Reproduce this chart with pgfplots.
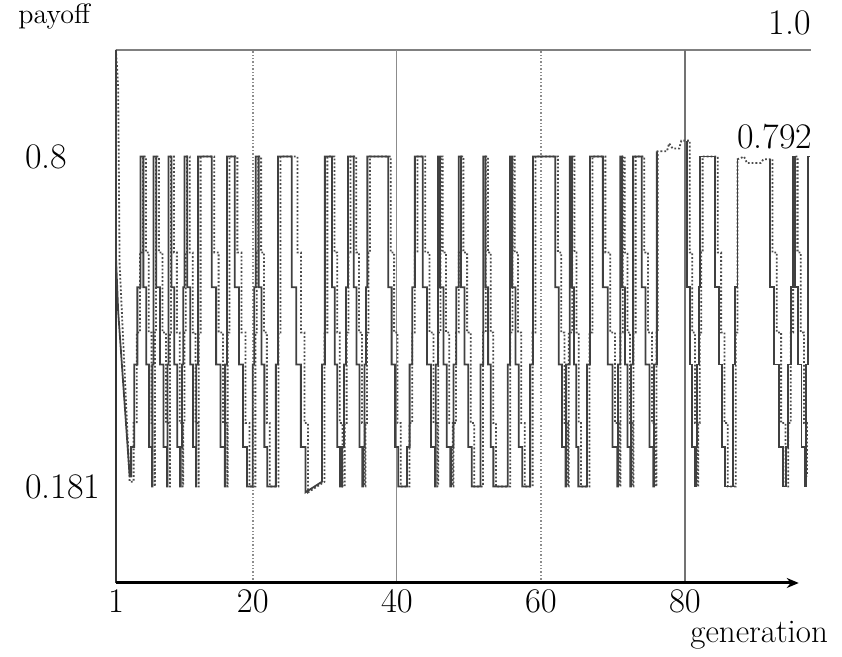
\documentclass[border=0pt]{standalone}
\usepackage{pgfplots}
\pgfplotsset{compat=1.18}
\usetikzlibrary{arrows.meta}
\begin{document}
\begin{tikzpicture}
\begin{axis}[
  scale only axis, width=347.5pt, height=266.5pt,
  xmin=1, xmax=97.5, ymin=0, ymax=1,
  axis x line=bottom, axis y line=left,
  x axis line style={draw=none}, y axis line style={draw=none},
  xtick={1,20,40,60,80},
  ytick={0.181,0.8}, yticklabels={0.181,0.8},
  major tick length=0pt,
  tick label style={font=\fontsize{18}{20}\selectfont},
  yticklabel style={anchor=west, inner sep=0pt, xshift=-45.5pt},
  clip=false,
]
% frame and grid
\draw[black!50, line width=1.1pt] (axis cs:1,1) -- (axis cs:97.5,1);
\draw[black!45, densely dotted, line width=0.7pt] (axis cs:20,0) -- (axis cs:20,1);
\draw[black!45, line width=0.6pt] (axis cs:40,0) -- (axis cs:40,1);
\draw[black!45, densely dotted, line width=0.7pt] (axis cs:60,0) -- (axis cs:60,1);
\draw[black!55, line width=0.6pt] (axis cs:80,0) -- (axis cs:80,1);
\draw[black!80, line width=1pt] (axis cs:1,0) -- (axis cs:1,1);
\draw[black, line width=1.5pt, -{Stealth[length=6pt,width=5pt]}] (axis cs:1,0) -- (axis cs:95.8,0);

% dotted strategy
\addplot[black!70, densely dotted, line width=0.9pt] coordinates {
(1,1.0) (1.3,0.93) (1.5,0.6) (2.9,0.19) (3.45,0.19)
(3.45,0.3) (3.88,0.3) (3.88,0.47) (4.32,0.47) (4.32,0.62) (4.75,0.62) (4.75,0.8) (5.15,0.8)
(5.15,0.62) (5.55,0.62) (5.55,0.47) (5.95,0.47) (5.95,0.3) (6.35,0.3) (6.35,0.181) (6.4,0.181)
(6.4,0.47) (6.55,0.47) (6.55,0.8) (6.95,0.8)
(6.95,0.62) (7.45,0.62) (7.45,0.47) (7.95,0.47) (7.95,0.3) (8.45,0.3) (8.45,0.181) (8.5,0.181)
(8.5,0.47) (8.65,0.47) (8.65,0.8) (9.05,0.8)
(9.05,0.62) (9.45,0.62) (9.45,0.47) (9.85,0.47) (9.85,0.3) (10.25,0.3) (10.25,0.181) (10.35,0.181)
(10.35,0.3) (10.52,0.3) (10.52,0.47) (10.68,0.47) (10.68,0.62) (10.85,0.62) (10.85,0.8) (11.25,0.8)
(11.25,0.62) (11.65,0.62) (11.65,0.47) (12.05,0.47) (12.05,0.3) (12.45,0.3) (12.45,0.181) (12.5,0.181)
(12.5,0.47) (12.75,0.47) (12.75,0.8) (14.65,0.8)
(14.65,0.62) (15.25,0.62) (15.25,0.47) (15.85,0.47) (15.85,0.3) (16.45,0.3) (16.45,0.181) (16.5,0.181)
(16.5,0.47) (16.75,0.47) (16.75,0.8) (17.85,0.8)
(17.85,0.62) (18.42,0.62) (18.42,0.47) (18.98,0.47) (18.98,0.3) (19.55,0.3) (19.55,0.181) (20.35,0.181)
(20.35,0.47) (20.55,0.47) (20.55,0.62) (20.75,0.62) (20.75,0.8) (21.15,0.8)
(21.15,0.62) (21.55,0.62) (21.55,0.47) (21.95,0.47) (21.95,0.3) (22.35,0.3) (22.35,0.181) (23.55,0.181)
(23.55,0.47) (23.85,0.47) (23.85,0.8) (26.2,0.8)
(26.2,0.62) (26.68,0.62) (26.68,0.47) (27.17,0.47) (27.17,0.3) (27.65,0.3) (27.65,0.17) (29.95,0.19)
(29.95,0.47) (30.35,0.47) (30.35,0.8) (31.35,0.8)
(31.35,0.62) (31.72,0.62) (31.72,0.47) (32.08,0.47) (32.08,0.3) (32.45,0.3) (32.45,0.181) (32.75,0.181)
(32.75,0.3) (33.02,0.3) (33.02,0.47) (33.28,0.47) (33.28,0.62) (33.55,0.62) (33.55,0.8) (34.35,0.8)
(34.35,0.62) (34.75,0.62) (34.75,0.47) (35.15,0.47) (35.15,0.3) (35.55,0.3) (35.55,0.181) (35.65,0.181)
(35.65,0.3) (35.85,0.3) (35.85,0.47) (36.05,0.47) (36.05,0.62) (36.25,0.62) (36.25,0.8) (39.15,0.8)
(39.15,0.62) (39.62,0.62) (39.62,0.47) (40.08,0.47) (40.08,0.3) (40.55,0.3) (40.55,0.181) (41.75,0.181)
(41.75,0.3) (42.12,0.3) (42.12,0.47) (42.48,0.47) (42.48,0.62) (42.85,0.62) (42.85,0.8) (43.95,0.8)
(43.95,0.62) (44.52,0.62) (44.52,0.47) (45.08,0.47) (45.08,0.3) (45.65,0.3) (45.65,0.181) (45.75,0.181)
(45.75,0.47) (46.05,0.47) (46.05,0.8) (46.35,0.8)
(46.35,0.62) (46.82,0.62) (46.82,0.47) (47.28,0.47) (47.28,0.3) (47.75,0.3) (47.75,0.181) (47.85,0.181)
(47.85,0.3) (48.22,0.3) (48.22,0.47) (48.58,0.47) (48.58,0.62) (48.95,0.62) (48.95,0.8) (49.25,0.8)
(49.25,0.62) (49.75,0.62) (49.75,0.47) (50.25,0.47) (50.25,0.3) (50.75,0.3) (50.75,0.181) (51.95,0.181)
(51.95,0.47) (52.35,0.47) (52.35,0.8) (52.65,0.8)
(52.65,0.62) (53.02,0.62) (53.02,0.47) (53.38,0.47) (53.38,0.3) (53.75,0.3) (53.75,0.181) (55.75,0.181)
(55.75,0.47) (56.05,0.47) (56.05,0.8) (56.35,0.8)
(56.35,0.62) (56.82,0.62) (56.82,0.47) (57.28,0.47) (57.28,0.3) (57.75,0.3) (57.75,0.181) (58.85,0.181)
(58.85,0.47) (59.25,0.47) (59.25,0.8) (62.35,0.8)
(62.35,0.62) (62.82,0.62) (62.82,0.47) (63.28,0.47) (63.28,0.3) (63.75,0.3) (63.75,0.181) (63.85,0.181)
(63.85,0.47) (64.35,0.47) (64.35,0.8) (64.65,0.8)
(64.65,0.62) (64.95,0.62) (64.95,0.47) (65.25,0.47) (65.25,0.3) (65.55,0.3) (65.55,0.181) (66.75,0.181)
(66.75,0.47) (67.15,0.47) (67.15,0.8) (68.95,0.8)
(68.95,0.62) (69.62,0.62) (69.62,0.47) (70.28,0.47) (70.28,0.3) (70.95,0.3) (70.95,0.181) (71.05,0.181)
(71.05,0.47) (71.35,0.47) (71.35,0.8) (71.65,0.8)
(71.65,0.62) (72.02,0.62) (72.02,0.47) (72.38,0.47) (72.38,0.3) (72.75,0.3) (72.75,0.181) (72.85,0.181)
(72.85,0.47) (73.15,0.47) (73.15,0.8) (74.35,0.8)
(74.35,0.62) (74.88,0.62) (74.88,0.47) (75.42,0.47) (75.42,0.3) (75.95,0.3) (75.95,0.181) (76.05,0.181)
(76.05,0.47) (76.2,0.47) (76.2,0.81) (77.5,0.81) (77.8,0.825) (78.3,0.815) (79.2,0.815) (79.5,0.83) (80.65,0.83)
(80.65,0.62) (81.02,0.62) (81.02,0.47) (81.38,0.47) (81.38,0.3) (81.75,0.3) (81.75,0.181) (81.85,0.181)
(81.85,0.3) (82.05,0.3) (82.05,0.47) (82.25,0.47) (82.25,0.62) (82.45,0.62) (82.45,0.8) (84.55,0.8)
(84.55,0.62) (85.02,0.62) (85.02,0.47) (85.48,0.47) (85.48,0.3) (85.95,0.3) (85.95,0.181) (87.05,0.181)
(87.05,0.47) (87.3,0.47) (87.3,0.795) (88.2,0.8) (88.6,0.788) (90.5,0.788) (90.9,0.795) (92.15,0.795)
(92.15,0.62) (92.75,0.62) (92.75,0.47) (93.35,0.47) (93.35,0.3) (93.95,0.3) (93.95,0.181) (94.35,0.181)
(94.35,0.3) (94.68,0.3) (94.68,0.47) (95.02,0.47) (95.02,0.62) (95.35,0.62) (95.35,0.8) (95.65,0.8)
(95.65,0.62) (96.08,0.62) (96.08,0.47) (96.52,0.47) (96.52,0.3) (96.95,0.3) (96.95,0.2)
};

% solid strategy
\addplot[black!75, line width=0.9pt] coordinates {
(1,1.0) (1,0.61) (1.3,0.51) (2.9,0.2) (3.1,0.2)
(3.1,0.255) (3.53,0.255) (3.53,0.41) (3.97,0.41) (3.97,0.555) (4.4,0.555) (4.4,0.8) (4.8,0.8)
(4.8,0.555) (5.2,0.555) (5.2,0.41) (5.6,0.41) (5.6,0.255) (6.0,0.255) (6.0,0.181) (6.05,0.181)
(6.05,0.41) (6.2,0.41) (6.2,0.8) (6.6,0.8)
(6.6,0.555) (7.1,0.555) (7.1,0.41) (7.6,0.41) (7.6,0.255) (8.1,0.255) (8.1,0.181) (8.15,0.181)
(8.15,0.41) (8.3,0.41) (8.3,0.8) (8.7,0.8)
(8.7,0.555) (9.1,0.555) (9.1,0.41) (9.5,0.41) (9.5,0.255) (9.9,0.255) (9.9,0.181) (10.0,0.181)
(10.0,0.255) (10.17,0.255) (10.17,0.41) (10.33,0.41) (10.33,0.555) (10.5,0.555) (10.5,0.8) (10.9,0.8)
(10.9,0.555) (11.3,0.555) (11.3,0.41) (11.7,0.41) (11.7,0.255) (12.1,0.255) (12.1,0.181) (12.15,0.181)
(12.15,0.41) (12.4,0.41) (12.4,0.8) (14.3,0.8)
(14.3,0.555) (14.9,0.555) (14.9,0.41) (15.5,0.41) (15.5,0.255) (16.1,0.255) (16.1,0.181) (16.15,0.181)
(16.15,0.41) (16.4,0.41) (16.4,0.8) (17.5,0.8)
(17.5,0.555) (18.07,0.555) (18.07,0.41) (18.63,0.41) (18.63,0.255) (19.2,0.255) (19.2,0.181) (20.0,0.181)
(20.0,0.41) (20.2,0.41) (20.2,0.555) (20.4,0.555) (20.4,0.8) (20.8,0.8)
(20.8,0.555) (21.2,0.555) (21.2,0.41) (21.6,0.41) (21.6,0.255) (22.0,0.255) (22.0,0.181) (23.2,0.181)
(23.2,0.41) (23.5,0.41) (23.5,0.8) (25.4,0.8)
(25.4,0.555) (26.03,0.555) (26.03,0.41) (26.67,0.41) (26.67,0.255) (27.3,0.255) (27.3,0.17) (29.6,0.19)
(29.6,0.41) (30.0,0.41) (30.0,0.8) (31.0,0.8)
(31.0,0.555) (31.37,0.555) (31.37,0.41) (31.73,0.41) (31.73,0.255) (32.1,0.255) (32.1,0.181) (32.4,0.181)
(32.4,0.255) (32.67,0.255) (32.67,0.41) (32.93,0.41) (32.93,0.555) (33.2,0.555) (33.2,0.8) (34.0,0.8)
(34.0,0.555) (34.4,0.555) (34.4,0.41) (34.8,0.41) (34.8,0.255) (35.2,0.255) (35.2,0.181) (35.3,0.181)
(35.3,0.255) (35.5,0.255) (35.5,0.41) (35.7,0.41) (35.7,0.555) (35.9,0.555) (35.9,0.8) (38.8,0.8)
(38.8,0.555) (39.27,0.555) (39.27,0.41) (39.73,0.41) (39.73,0.255) (40.2,0.255) (40.2,0.181) (41.4,0.181)
(41.4,0.255) (41.77,0.255) (41.77,0.41) (42.13,0.41) (42.13,0.555) (42.5,0.555) (42.5,0.8) (43.6,0.8)
(43.6,0.555) (44.17,0.555) (44.17,0.41) (44.73,0.41) (44.73,0.255) (45.3,0.255) (45.3,0.181) (45.4,0.181)
(45.4,0.41) (45.7,0.41) (45.7,0.8) (46.0,0.8)
(46.0,0.555) (46.47,0.555) (46.47,0.41) (46.93,0.41) (46.93,0.255) (47.4,0.255) (47.4,0.181) (47.5,0.181)
(47.5,0.255) (47.87,0.255) (47.87,0.41) (48.23,0.41) (48.23,0.555) (48.6,0.555) (48.6,0.8) (48.9,0.8)
(48.9,0.555) (49.4,0.555) (49.4,0.41) (49.9,0.41) (49.9,0.255) (50.4,0.255) (50.4,0.181) (51.6,0.181)
(51.6,0.41) (52.0,0.41) (52.0,0.8) (52.3,0.8)
(52.3,0.555) (52.67,0.555) (52.67,0.41) (53.03,0.41) (53.03,0.255) (53.4,0.255) (53.4,0.181) (55.4,0.181)
(55.4,0.41) (55.7,0.41) (55.7,0.8) (56.0,0.8)
(56.0,0.555) (56.47,0.555) (56.47,0.41) (56.93,0.41) (56.93,0.255) (57.4,0.255) (57.4,0.181) (58.5,0.181)
(58.5,0.41) (58.9,0.41) (58.9,0.8) (62.0,0.8)
(62.0,0.555) (62.47,0.555) (62.47,0.41) (62.93,0.41) (62.93,0.255) (63.4,0.255) (63.4,0.181) (63.5,0.181)
(63.5,0.41) (64.0,0.41) (64.0,0.8) (64.3,0.8)
(64.3,0.555) (64.6,0.555) (64.6,0.41) (64.9,0.41) (64.9,0.255) (65.2,0.255) (65.2,0.181) (66.4,0.181)
(66.4,0.41) (66.8,0.41) (66.8,0.8) (68.6,0.8)
(68.6,0.555) (69.27,0.555) (69.27,0.41) (69.93,0.41) (69.93,0.255) (70.6,0.255) (70.6,0.181) (70.7,0.181)
(70.7,0.41) (71.0,0.41) (71.0,0.8) (71.3,0.8)
(71.3,0.555) (71.67,0.555) (71.67,0.41) (72.03,0.41) (72.03,0.255) (72.4,0.255) (72.4,0.181) (72.5,0.181)
(72.5,0.41) (72.8,0.41) (72.8,0.8) (74.0,0.8)
(74.0,0.555) (74.53,0.555) (74.53,0.41) (75.07,0.41) (75.07,0.255) (75.6,0.255) (75.6,0.181) (75.7,0.181)
(75.7,0.41) (76.1,0.41) (76.1,0.81)
};
\addplot[black!75, line width=0.9pt] coordinates {
(80.3,0.83)
(80.3,0.555) (80.67,0.555) (80.67,0.41) (81.03,0.41) (81.03,0.255) (81.4,0.255) (81.4,0.181) (81.5,0.181)
(81.5,0.255) (81.7,0.255) (81.7,0.41) (81.9,0.41) (81.9,0.555) (82.1,0.555) (82.1,0.8) (84.2,0.8)
(84.2,0.555) (84.67,0.555) (84.67,0.41) (85.13,0.41) (85.13,0.255) (85.6,0.255) (85.6,0.181) (86.7,0.181)
(86.7,0.41) (87.0,0.41) (87.0,0.555) (87.3,0.555) (87.3,0.795)
};
\addplot[black!75, line width=0.9pt] coordinates {
(91.8,0.795)
(91.8,0.555) (92.4,0.555) (92.4,0.41) (93.0,0.41) (93.0,0.255) (93.6,0.255) (93.6,0.181) (94.0,0.181)
(94.0,0.255) (94.33,0.255) (94.33,0.41) (94.67,0.41) (94.67,0.555) (95.0,0.555) (95.0,0.8) (95.3,0.8)
(95.3,0.555) (95.73,0.555) (95.73,0.41) (96.17,0.41) (96.17,0.255) (96.6,0.255) (96.6,0.181) (96.8,0.181)
(96.8,0.41) (97.1,0.41) (97.1,0.8) (97.3,0.8)
};

\node[anchor=base west, inner sep=0pt, xshift=-49pt, yshift=13pt, font=\fontsize{14}{16}\selectfont] at (axis cs:1,1) {payoff};
\node[anchor=base east, inner sep=0pt, yshift=7.5pt, font=\fontsize{18}{20}\selectfont] at (axis cs:97.5,1) {1.0};
\node[anchor=base west, inner sep=0pt, font=\fontsize{18}{20}\selectfont] at (axis cs:87.2,0.815) {0.792};
\node[anchor=base west, inner sep=0pt, xshift=287pt, yshift=-30pt, font=\fontsize{16.5}{18}\selectfont] at (axis cs:1,0) {generation};
\coordinate (sw) at (axis cs:1,0);
\coordinate (ne) at (axis cs:97.5,1);
\end{axis}
\pgfresetboundingbox
\path[use as bounding box] ([shift={(-58pt,-37pt)}]sw) rectangle ([shift={(15.5pt,25pt)}]ne);
\end{tikzpicture}
\end{document}
